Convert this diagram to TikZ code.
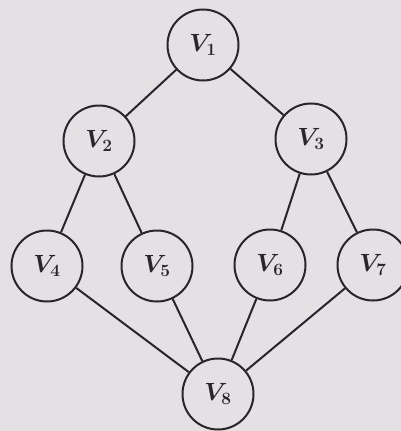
\documentclass[tikz,border=0pt]{standalone}
\usepackage{xcolor}
\usepackage{bm}
\definecolor{paper}{RGB}{227,225,228}
\definecolor{ink}{RGB}{40,38,42}
\newcommand{\vlab}[1]{$\bm{V}_{\bm{#1}}$}
\begin{document}
\begin{tikzpicture}[x=1pt,y=-1pt,
  vert/.style={circle,draw=ink,line width=2pt,minimum size=71pt,inner sep=0pt,fill=paper,text=ink,font=\fontsize{23}{26}\selectfont},
  edge/.style={draw=ink,line width=2pt}]
\fill[paper] (0,0) rectangle (401,431);
\useasboundingbox (0,0) rectangle (401,431);
\node[vert] (v1) at (203,45) {\vlab{1}};
\node[vert] (v2) at (99,141) {\vlab{2}};
\node[vert] (v3) at (311,139) {\vlab{3}};
\node[vert] (v4) at (47,266) {\vlab{4}};
\node[vert] (v5) at (157,266) {\vlab{5}};
\node[vert] (v6) at (270,265) {\vlab{6}};
\node[vert] (v7) at (373,265) {\vlab{7}};
\node[vert] (v8) at (218,394) {\vlab{8}};
\path[edge] (v1) -- (v2);
\path[edge] (v1) -- (v3);
\path[edge] (v2) -- (v4);
\path[edge] (v2) -- (v5);
\path[edge] (v3) -- (v6);
\path[edge] (v3) -- (v7);
\path[edge] (v4) -- (v8);
\path[edge] (v5) -- (v8);
\path[edge] (v6) -- (v8);
\path[edge] (v7) -- (v8);
\end{tikzpicture}
\end{document}
